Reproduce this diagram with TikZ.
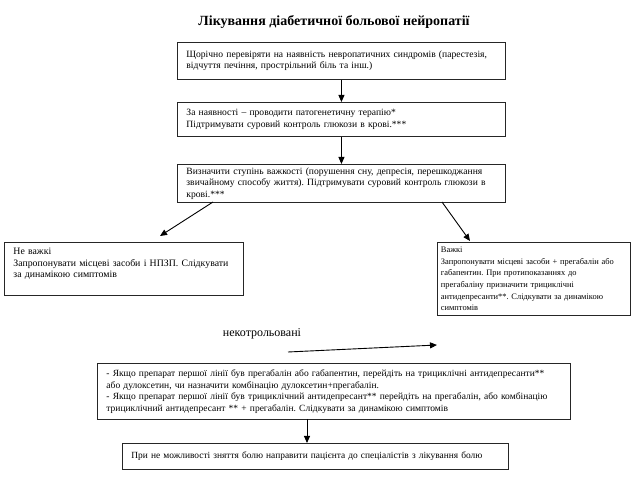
\documentclass[tikz,border=0pt]{standalone}
\usepackage{fontspec}
\setmainfont{Liberation Serif}
\usetikzlibrary{arrows.meta}
\frenchspacing
\tikzset{
  box/.style={draw=black!85, line width=0.9pt, anchor=north west, align=left,
    inner xsep=9pt, inner ysep=2pt, font=\fontsize{9.6}{11.5}\selectfont\frenchspacing},
  conn/.style={line width=0.9pt, -{Triangle[length=7pt,width=6pt]}},
}
\begin{document}
\begin{tikzpicture}[x=1pt,y=1pt]
\useasboundingbox (0,0) rectangle (640,-502);
\fill[white] (0,0) rectangle (640,-502);

\node[font=\fontsize{14}{16}\selectfont\bfseries] (title) at (334,-22) {Лікування діабетичної больової нейропатії};

\node[box, minimum width=328pt, minimum height=37pt, text width=310pt] (b1) at (177,-42)
 {Щорічно перевіряти на наявність невропатичних синдромів (парестезія,\\
  відчуття печіння, прострільний біль та інш.)};
\node[box, minimum width=328pt, minimum height=34pt, text width=310pt] (b2) at (177,-102)
 {За наявності – проводити патогенетичну терапію*\\
  Підтримувати суровий контроль глюкози в крові.***};
\node[box, minimum width=328pt, minimum height=38pt, text width=310pt] (b3) at (177,-164)
 {Визначити ступінь важкості (порушення сну, депресія, перешкоджання\\
  звичайному способу життя). Підтримувати суровий контроль глюкози в\\
  крові.***};
\node[box, font=\fontsize{9.8}{11.5}\selectfont\frenchspacing, minimum width=239pt, minimum height=53pt, text width=221pt] (b4) at (4,-242)
 {Не важкі\\
  Запропонувати місцеві засоби і НПЗП. Слідкувати\\
  за динамікою симптомів\\ \mbox{}};
\node[box, font=\fontsize{8.4}{11.6}\selectfont\frenchspacing, inner xsep=3.5pt, minimum width=193pt, minimum height=73pt, text width=186pt] (b5) at (437,-242)
 {Важкі\\
  Запропонувати місцеві засоби + прегабалін або\\
  габапентин. При протипоказаннях до\\
  прегабаліну призначити трициклічні\\
  антидепресанти**. Слідкувати за динамікою\\
  симптомів};
\node[font=\fontsize{12}{14}\selectfont] (unc) at (262,-334) {некотрольовані};
\node[box, font=\fontsize{9.5}{11.5}\selectfont\frenchspacing, minimum width=473pt, minimum height=56pt, text width=455pt] (b6) at (97,-363)
 {- Якщо препарат першої лінії був прегабалін або габапентин, перейдіть на трициклічні антидепресанти**\\
  або дулоксетин, чи назначити комбінацію дулоксетин+прегабалін.\\
  - Якщо препарат першої лінії був трициклічний антидепресант** перейдіть на прегабалін, або комбінацію\\
  трициклічний антидепресант ** + прегабалін. Слідкувати за динамікою симптомів};
\node[box, font=\fontsize{9.4}{11.5}\selectfont\frenchspacing, minimum width=386pt, minimum height=26pt, text width=368pt] (b7) at (122,-443)
 {При не можливості зняття болю направити пацієнта до спеціалістів з лікування болю};

\coordinate (l1s) at (213,-202);
\coordinate (l1e) at (160,-236);
\coordinate (r1s) at (442,-202);
\coordinate (r1e) at (470,-241);
\coordinate (us) at (288,-352);
\coordinate (ue) at (437,-345);
\coordinate (d6s) at (307,-419);
\coordinate (d6e) at (307,-443);

\draw[conn] (b1.south) -- (b2.north);
\draw[conn] (b2.south) -- (b3.north);
\draw[conn] (l1s) -- (l1e);
\draw[conn] (r1s) -- (r1e);
\draw[conn] (us) -- (ue);
\draw[conn] (d6s) -- (d6e);
\end{tikzpicture}
\end{document}
